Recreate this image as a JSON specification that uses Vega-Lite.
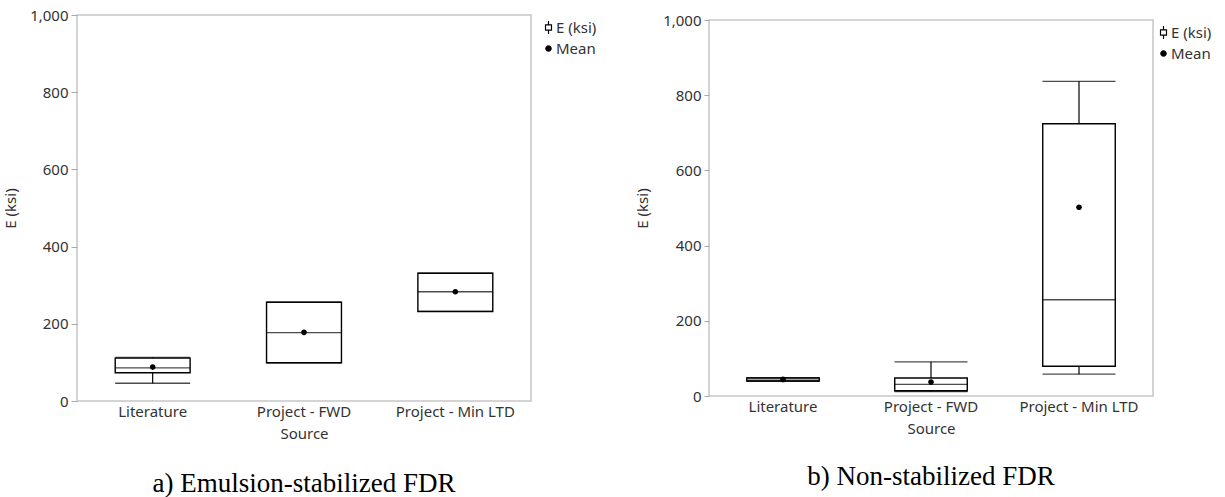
{
  "$schema": "https://vega.github.io/schema/vega-lite/v6.json",
  "background": "white",
  "padding": {"left": 2, "top": 7, "right": 0, "bottom": 0},
  "autosize": {"type": "pad"},
  "bounds": "flush",
  "center": true,
  "spacing": 178,
  "resolve": {"scale": {"shape": "independent", "x": "independent", "y": "independent"}, "legend": {"shape": "independent"}},
  "config": {
    "view": {"stroke": "#c6c6c6", "strokeWidth": 1.5},
    "axis": {"grid": false, "domain": false, "labelFont": "Noto Sans", "labelFontSize": 15, "labelColor": "#333333", "titleFont": "Noto Sans", "titleFontSize": 15, "titleFontWeight": "normal", "titleColor": "#333333", "tickColor": "#a8a8a8", "labelOverlap": false, "labelFlush": false},
    "legend": {"title": null, "orient": "right", "padding": 5, "labelFont": "Noto Sans", "labelFontSize": 15, "labelColor": "#333333", "symbolSize": 170, "rowPadding": 5, "labelOffset": 0, "symbolFillColor": "black", "symbolStrokeColor": "black", "symbolStrokeWidth": 0}
  },
  "hconcat": [
    {
      "width": 454,
      "height": 386,
      "title": {"text": "a) Emulsion-stabilized FDR", "orient": "bottom", "anchor": "middle", "frame": "group", "offset": 30, "font": "Liberation Serif", "fontSize": 27, "fontWeight": "normal", "color": "#000000"},
      "data": {"values": [
        {"source": "Literature", "min": 46, "q1": 73, "median": 86, "q3": 111, "max": 113, "mean": 88, "series": "Mean"},
        {"source": "Project - FWD", "min": 99, "q1": 99, "median": 177, "q3": 256, "max": 256, "mean": 178, "series": "Mean"},
        {"source": "Project - Min LTD", "min": 232, "q1": 232, "median": 283, "q3": 331, "max": 331, "mean": 283, "series": "Mean"}
      ]},
      "encoding": {
        "x": {"field": "source", "type": "nominal", "sort": ["Literature", "Project - FWD", "Project - Min LTD"], "scale": {"paddingInner": 0, "paddingOuter": 0}, "axis": {"title": "Source", "labelAngle": 0, "ticks": false, "labelPadding": 3, "titlePadding": 7}}
      },
      "layer": [
        {"mark": {"type": "rule", "color": "black", "strokeWidth": 1.2},
         "encoding": {
           "y": {"field": "min", "type": "quantitative", "title": "E (ksi)", "scale": {"domain": [0, 1000], "nice": false, "zero": true},
                 "axis": {"values": [0, 100, 200, 300, 400, 500, 600, 700, 800, 900, 1000], "labelExpr": "datum.value % 200 === 0 ? format(datum.value, ',') : ''", "tickSize": {"condition": {"test": "datum.value % 200 === 0", "value": 6}, "value": 3}, "labelPadding": 3, "titlePadding": 11}},
           "y2": {"field": "max"}}},
        {"mark": {"type": "bar", "fill": "white", "stroke": "black", "strokeWidth": 1.4, "width": {"band": 0.495}},
         "encoding": {"y": {"field": "q3", "type": "quantitative", "title": "E (ksi)"}, "y2": {"field": "q1"}}},
        {"mark": {"type": "tick", "color": "black", "thickness": 1.3, "size": 75},
         "encoding": {"y": {"field": "median", "type": "quantitative", "title": "E (ksi)"}}},
        {"mark": {"type": "tick", "color": "black", "thickness": 1.3, "size": 75},
         "encoding": {"y": {"field": "min", "type": "quantitative", "title": "E (ksi)"}}},
        {"mark": {"type": "tick", "color": "black", "thickness": 1.3, "size": 75},
         "encoding": {"y": {"field": "max", "type": "quantitative", "title": "E (ksi)"}}},
        {"mark": {"type": "point", "filled": true, "color": "black", "opacity": 1, "size": 130, "strokeWidth": 0},
         "encoding": {
           "y": {"field": "mean", "type": "quantitative", "title": "E (ksi)"},
           "shape": {"field": "series", "type": "nominal",
                     "scale": {"domain": ["E (ksi)", "Mean"], "range": ["M-0.55,-0.5H0.55V0.5H-0.55Z M-0.37,-0.32V0.32H0.37V-0.32Z M-0.09,-1H0.09V-0.5H-0.09Z M-0.09,0.5H0.09V1H-0.09Z", "M0.5,0A0.5,0.5 0 1,1 -0.5,0A0.5,0.5 0 1,1 0.5,0Z"]},
                     "legend": {"offset": 5, "symbolSize": 170}}}}
      ]
    },
    {
      "width": 444,
      "height": 376,
      "title": {"text": "b) Non-stabilized FDR", "orient": "bottom", "anchor": "middle", "frame": "group", "offset": 28, "font": "Liberation Serif", "fontSize": 27, "fontWeight": "normal", "color": "#000000"},
      "data": {"values": [
        {"source": "Literature", "min": 39, "q1": 40, "median": 42, "q3": 48, "max": 49, "mean": 44, "series": "Mean"},
        {"source": "Project - FWD", "min": 12, "q1": 14, "median": 31, "q3": 48, "max": 91, "mean": 37, "series": "Mean"},
        {"source": "Project - Min LTD", "min": 58, "q1": 79, "median": 256, "q3": 724, "max": 837, "mean": 502, "series": "Mean"}
      ]},
      "encoding": {
        "x": {"field": "source", "type": "nominal", "sort": ["Literature", "Project - FWD", "Project - Min LTD"], "scale": {"paddingInner": 0, "paddingOuter": 0}, "axis": {"title": "Source", "labelAngle": 0, "ticks": false, "labelPadding": 3, "titlePadding": 7}}
      },
      "layer": [
        {"mark": {"type": "rule", "color": "black", "strokeWidth": 1.2},
         "encoding": {
           "y": {"field": "min", "type": "quantitative", "title": "E (ksi)", "scale": {"domain": [0, 1000], "nice": false, "zero": true},
                 "axis": {"values": [0, 100, 200, 300, 400, 500, 600, 700, 800, 900, 1000], "labelExpr": "datum.value % 200 === 0 ? format(datum.value, ',') : ''", "tickSize": {"condition": {"test": "datum.value % 200 === 0", "value": 5}, "value": 3}, "labelPadding": 3, "titlePadding": 12}},
           "y2": {"field": "max"}}},
        {"mark": {"type": "bar", "fill": "white", "stroke": "black", "strokeWidth": 1.4, "width": {"band": 0.49}},
         "encoding": {"y": {"field": "q3", "type": "quantitative", "title": "E (ksi)"}, "y2": {"field": "q1"}}},
        {"mark": {"type": "tick", "color": "black", "thickness": 1.3, "size": 73},
         "encoding": {"y": {"field": "median", "type": "quantitative", "title": "E (ksi)"}}},
        {"mark": {"type": "tick", "color": "black", "thickness": 1.3, "size": 73},
         "encoding": {"y": {"field": "min", "type": "quantitative", "title": "E (ksi)"}}},
        {"mark": {"type": "tick", "color": "black", "thickness": 1.3, "size": 73},
         "encoding": {"y": {"field": "max", "type": "quantitative", "title": "E (ksi)"}}},
        {"mark": {"type": "point", "filled": true, "color": "black", "opacity": 1, "size": 130, "strokeWidth": 0},
         "encoding": {
           "y": {"field": "mean", "type": "quantitative", "title": "E (ksi)"},
           "shape": {"field": "series", "type": "nominal",
                     "scale": {"domain": ["E (ksi)", "Mean"], "range": ["M-0.55,-0.5H0.55V0.5H-0.55Z M-0.37,-0.32V0.32H0.37V-0.32Z M-0.09,-1H0.09V-0.5H-0.09Z M-0.09,0.5H0.09V1H-0.09Z", "M0.5,0A0.5,0.5 0 1,1 -0.5,0A0.5,0.5 0 1,1 0.5,0Z"]},
                     "legend": {"offset": -2, "symbolSize": 170}}}}
      ]
    }
  ]
}
